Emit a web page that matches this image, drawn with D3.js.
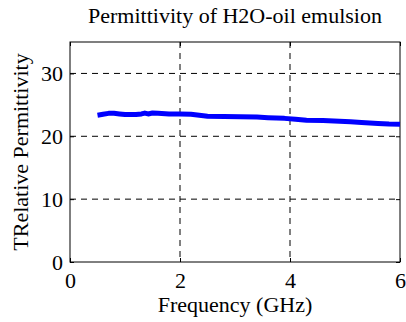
<!DOCTYPE html>
<html><head><meta charset="utf-8">
<script src="https://cdn.jsdelivr.net/npm/d3@7"></script>
</head><body style="margin:0"><svg id="c" width="406" height="322"></svg>
<script>
const title = "Permittivity of H2O-oil emulsion";
const xLabel = "Frequency (GHz)";
const yLabel = "TRelative Permittivity";
const xTicks = [0, 2, 4, 6];
const yTicks = [0, 10, 20, 30];
const freq = [0.5, 0.6, 0.7, 0.8, 0.9, 1.0, 1.1, 1.2, 1.3, 1.36, 1.42, 1.5, 1.6, 1.8, 2.0, 2.2, 2.35, 2.5, 2.8, 3.1, 3.4, 3.6, 3.9, 4.1, 4.3, 4.6, 4.9, 5.1, 5.3, 5.6, 5.8, 6.0];
const perm = [23.35, 23.5, 23.65, 23.65, 23.55, 23.45, 23.45, 23.45, 23.55, 23.7, 23.55, 23.7, 23.65, 23.55, 23.55, 23.5, 23.35, 23.2, 23.15, 23.1, 23.05, 22.95, 22.85, 22.7, 22.55, 22.5, 22.4, 22.3, 22.2, 22.05, 21.95, 21.9];

const svg = d3.select("#c");
const L = 70, R = 400, T = 42, B = 262;
const x = d3.scaleLinear().domain([0, 6]).range([L, R]);
const y = d3.scaleLinear().domain([0, 35]).range([B, T]);

svg.append("rect").attr("width", 406).attr("height", 322).attr("fill", "#fff");

// grid
svg.append("g").selectAll("line").data(xTicks.slice(1, -1)).join("line")
  .attr("x1", d => x(d)).attr("x2", d => x(d)).attr("y1", T).attr("y2", B)
  .attr("stroke", "#000").attr("stroke-width", 1).attr("stroke-dasharray", "6,5");
svg.append("g").selectAll("line").data(yTicks.slice(1)).join("line")
  .attr("x1", L).attr("x2", R).attr("y1", d => y(d)).attr("y2", d => y(d))
  .attr("stroke", "#000").attr("stroke-width", 1).attr("stroke-dasharray", "6,5");

// axes with inward ticks
const gx = svg.append("g").attr("transform", `translate(0,${B})`)
  .call(d3.axisBottom(x).tickValues(xTicks).tickSize(-4).tickPadding(10).tickFormat(d3.format("d")));
const gy = svg.append("g").attr("transform", `translate(${L},0)`)
  .call(d3.axisLeft(y).tickValues(yTicks).tickSize(-4).tickPadding(7).tickFormat(d3.format("d")));
const gt = svg.append("g").attr("transform", `translate(0,${T})`)
  .call(d3.axisTop(x).tickValues(xTicks).tickSize(-4).tickFormat(""));
const gr = svg.append("g").attr("transform", `translate(${R},0)`)
  .call(d3.axisRight(y).tickValues(yTicks).tickSize(-4).tickFormat(""));
[gx, gy, gt, gr].forEach(g => {
  g.attr("font-family", null).attr("font-size", null);
  g.select(".domain").remove();
  g.selectAll("text").attr("font-family", "Liberation Serif").attr("font-size", 22).attr("fill", "#000");
});
gx.selectAll("text").attr("dy", "0.71em");
svg.append("rect").attr("x", L).attr("y", T).attr("width", R - L).attr("height", B - T)
  .attr("fill", "none").attr("stroke", "#000").attr("stroke-width", 1);

// data line
svg.append("path").datum(freq.map((f, i) => [f, perm[i]]))
  .attr("fill", "none").attr("stroke", "#0000ff").attr("stroke-width", 5)
  .attr("stroke-linejoin", "round")
  .attr("d", d3.line().x(d => x(d[0])).y(d => y(d[1])));

// labels
function label(sel) { return sel.attr("font-family", "Liberation Serif").attr("font-size", 22).attr("fill", "#000").attr("text-anchor", "middle"); }
label(svg.append("text")).attr("x", (L + R) / 2).attr("y", 23).text(title);
label(svg.append("text")).attr("x", (L + R) / 2).attr("y", 312).text(xLabel);
label(svg.append("text")).attr("transform", `translate(28,${(T + B) / 2}) rotate(-90)`).text(yLabel);
</script></body></html>
